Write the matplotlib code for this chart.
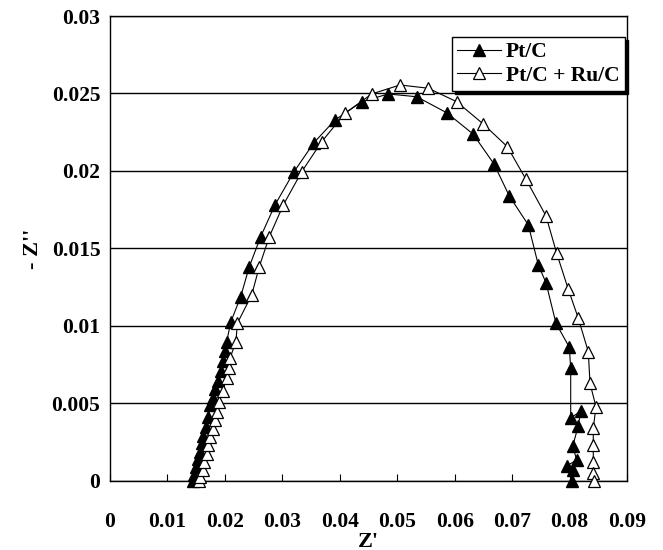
import numpy as np
import matplotlib
matplotlib.use('Agg')
import matplotlib.pyplot as plt

# Pt/C (filled triangles), Z' and -Z''
ptc_x = [0.01440, 0.01462, 0.01497, 0.01527, 0.01567, 0.01596, 0.01624, 0.01671,
         0.01711, 0.01741, 0.01788, 0.01833, 0.01885, 0.01940, 0.01975, 0.02005,
         0.02032, 0.02101, 0.02275, 0.02425, 0.02623, 0.02872, 0.03203, 0.03551,
         0.03917, 0.04382, 0.04845, 0.05339, 0.05861, 0.06319, 0.06685, 0.06951,
         0.07282, 0.07456, 0.07590, 0.07764, 0.07996, 0.08020, 0.08020, 0.08194,
         0.08152, 0.08055, 0.08124, 0.07950, 0.08055, 0.08037]
ptc_y = [0.00000, 0.00039, 0.00092, 0.00140, 0.00189, 0.00243, 0.00290, 0.00350,
         0.00411, 0.00488, 0.00534, 0.00592, 0.00647, 0.00710, 0.00775, 0.00840,
         0.00899, 0.01024, 0.01189, 0.01383, 0.01576, 0.01781, 0.01995, 0.02183,
         0.02329, 0.02447, 0.02497, 0.02479, 0.02376, 0.02239, 0.02045, 0.01839,
         0.01652, 0.01394, 0.01279, 0.01017, 0.00863, 0.00727, 0.00405, 0.00452,
         0.00355, 0.00226, 0.00135, 0.00097, 0.00071, 0.00000]

# Pt/C + Ru/C (open triangles)
ru_x = [0.01549, 0.01567, 0.01614, 0.01636, 0.01683, 0.01711, 0.01741, 0.01788,
        0.01828, 0.01857, 0.01903, 0.01962, 0.02032, 0.02063, 0.02089, 0.02193,
        0.02216, 0.02467, 0.02599, 0.02773, 0.03017, 0.03337, 0.03685, 0.04091,
        0.04556, 0.05048, 0.05541, 0.06035, 0.06498, 0.06916, 0.07242, 0.07590,
        0.07776, 0.07978, 0.08152, 0.08326, 0.08356, 0.08460, 0.08413, 0.08413,
        0.08413, 0.08413, 0.08425]
ru_y = [0.00000, 0.00028, 0.00071, 0.00125, 0.00174, 0.00232, 0.00282, 0.00334,
        0.00394, 0.00447, 0.00512, 0.00583, 0.00663, 0.00729, 0.00792, 0.00899,
        0.01017, 0.01200, 0.01383, 0.01576, 0.01781, 0.01995, 0.02189, 0.02372,
        0.02497, 0.02555, 0.02534, 0.02447, 0.02303, 0.02157, 0.01946, 0.01710,
        0.01469, 0.01237, 0.01050, 0.00834, 0.00630, 0.00479, 0.00340, 0.00229,
        0.00125, 0.00050, 0.00000]

x_ticks = np.arange(0, 0.0901, 0.01)
y_ticks = np.arange(0, 0.0301, 0.005)
x_labels = ['0', '0.01', '0.02', '0.03', '0.04', '0.05', '0.06', '0.07', '0.08', '0.09']
y_labels = ['0', '0.005', '0.01', '0.015', '0.02', '0.025', '0.03']

plt.rcParams['font.family'] = ['Liberation Serif', 'DejaVu Serif']
plt.rcParams['font.weight'] = 'bold'

fig = plt.figure(figsize=(6.63, 5.5), dpi=100)
ax = fig.add_axes([0.1659, 0.1255, 0.7798, 0.8454])

ax.plot(ptc_x, ptc_y, color='black', lw=0.8, marker='^', ms=8.5,
        mfc='black', mec='black', label='Pt/C', clip_on=False, zorder=3)
ax.plot(ru_x, ru_y, color='black', lw=0.8, marker='^', ms=8.5,
        mfc='white', mec='black', mew=0.9, label='Pt/C + Ru/C', clip_on=False, zorder=3)

ax.set_xlim(0, 0.09)
ax.set_ylim(0, 0.03)
ax.set_xticks(x_ticks)
ax.set_xticklabels(x_labels)
ax.set_yticks(y_ticks)
ax.set_yticklabels(y_labels)
ax.yaxis.grid(True, color='black', lw=1.0)
ax.set_axisbelow(True)
ax.tick_params(axis='x', direction='in', length=5, width=0.8, pad=22, labelsize=15.5)
ax.tick_params(axis='y', length=0, pad=7, labelsize=15.5)
for s in ax.spines.values():
    s.set_linewidth(1.0)

ax.set_xlabel("Z'", fontsize=16, fontweight='bold', labelpad=0)
ax.set_ylabel("- Z''", fontsize=16, fontweight='bold', labelpad=6)

leg = ax.legend(loc='upper right', bbox_to_anchor=(0.996, 0.955), fancybox=False,
                shadow={'color': 'black', 'alpha': 1.0}, edgecolor='black', framealpha=1,
                fontsize=15.5, borderaxespad=0, handlelength=2.0, borderpad=0.25,
                labelspacing=0.15, handletextpad=0.25)
leg.get_frame().set_linewidth(1.0)

fig.savefig('out.png', dpi=100)
